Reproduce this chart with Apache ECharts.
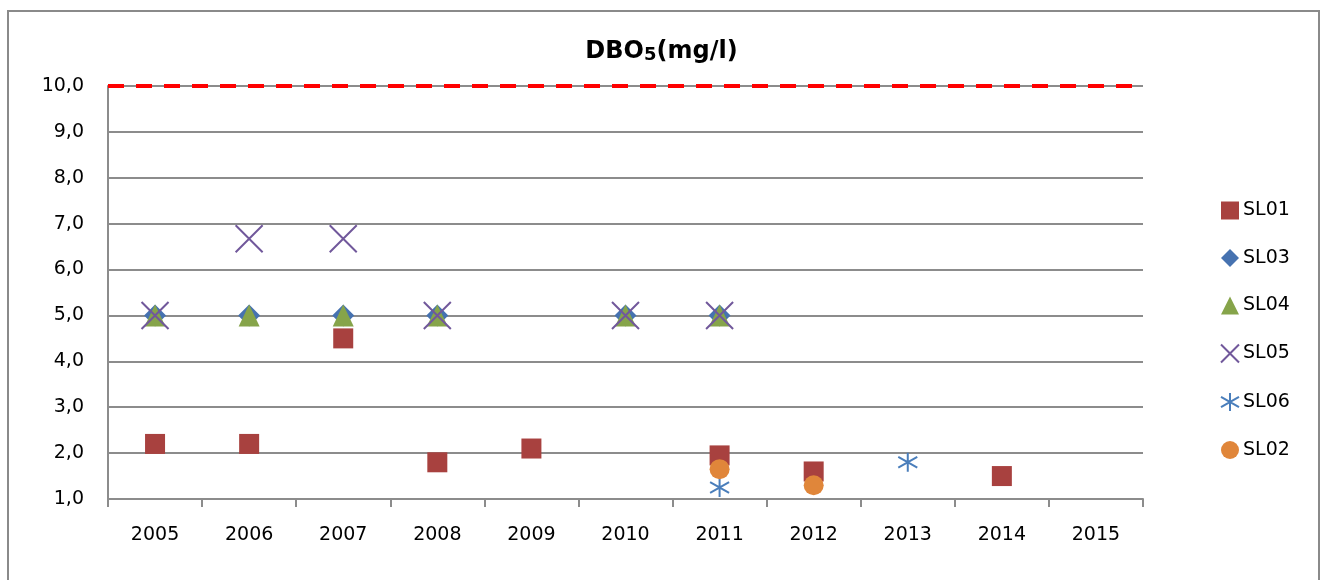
<!DOCTYPE html>
<html>
<head>
<meta charset="utf-8">
<script src="https://cdn.jsdelivr.net/npm/echarts@6/dist/echarts.min.js"></script>
<style>
  html, body { margin: 0; padding: 0; background: #fff; }
  #chart { position: absolute; left: 0; top: 0; width: 1323px; height: 580px; }
  #frame { position: absolute; left: 7px; top: 10px; width: 1313px; height: 600px;
           border: 2px solid #8a8a8a; box-sizing: border-box; pointer-events: none; }
</style>
</head>
<body>
<div id="chart"></div>
<div id="frame"></div>
<script>
const years = ['2005','2006','2007','2008','2009','2010','2011','2012','2013','2014','2015'];
const sl01 = [2.2, 2.2, 4.5, 1.8, 2.1, null, 1.95, 1.6, null, 1.5, null];
const sl03 = [5.0, 5.0, 5.0, 5.0, null, 5.0, 5.0, null, null, null, null];
const sl04 = [5.0, 5.0, 5.0, 5.0, null, 5.0, 5.0, null, null, null, null];
const sl05 = [5.0, 6.67, 6.67, 5.0, null, 5.0, 5.0, null, null, null, null];
const sl06 = [null, null, null, null, null, null, 1.25, null, 1.8, null, null];
const sl02 = [null, null, null, null, null, null, 1.65, 1.3, null, null, null];
const limitValue = 10.0;
const yMin = 1, yMax = 10, yStep = 1;

const FONT = 'DejaVu Sans';
const GRID_COLOR = '#8c8c8c';

const chart = echarts.init(document.getElementById('chart'), null, { renderer: 'canvas' });

const X_PATH = 'path://M0,0 L10,10 M10,0 L0,10';
const AST_PATH = 'path://M5,0 L5,10 M0,2.2 L10,7.8 M0,7.8 L10,2.2';

function sc(name, data, symbol, size, color, outlineOnly, z) {
  return {
    name: name,
    type: 'scatter',
    data: data,
    symbol: symbol,
    symbolSize: size,
    z: z,
    itemStyle: outlineOnly
      ? { color: 'rgba(0,0,0,0)', borderColor: color, borderWidth: 2, opacity: 1 }
      : { color: color, borderWidth: 0, opacity: 1 },
    emphasis: { disabled: true }
  };
}

const series = [
  sc('SL01', sl01, 'rect', 20, '#A8413F', false, 2),
  sc('SL03', sl03, 'diamond', 22, '#4672B0', false, 3),
  sc('SL04', sl04, 'triangle', [21, 22], '#86A44A', false, 4),
  sc('SL05', sl05, X_PATH, 27, '#71589B', true, 5),
  sc('SL06', sl06, AST_PATH, 19, '#4A7EBB', true, 6),
  sc('SL02', sl02, 'circle', 20, '#E0863A', false, 7)
];
series[0].markLine = {
  silent: true,
  symbol: ['none', 'none'],
  label: { show: false },
  lineStyle: { color: '#FF0000', width: 4, type: [16, 12], opacity: 1 },
  data: [{ yAxis: limitValue }]
};

chart.setOption({
  animation: false,
  backgroundColor: '#ffffff',
  title: {
    text: '{a|DBO}{b|5}{a|(mg/l)}',
    left: 'center',
    top: 29,
    textStyle: {
      rich: {
        a: { fontFamily: FONT, fontWeight: 'bold', fontSize: 24, color: '#000', lineHeight: 30, verticalAlign: 'bottom' },
        b: { fontFamily: FONT, fontWeight: 'bold', fontSize: 18, color: '#000', lineHeight: 25, verticalAlign: 'bottom' }
      }
    }
  },
  legend: {
    orient: 'vertical',
    left: 1215,
    top: 196,
    itemWidth: 18,
    itemHeight: 18,
    itemGap: 28.5,
    textStyle: { fontFamily: FONT, fontSize: 19, color: '#000', padding: [0, 0, 0, -1] },
    data: ['SL01', 'SL03', 'SL04', 'SL05', 'SL06', 'SL02']
  },
  grid: { left: 108, right: 180, top: 86, bottom: 81, containLabel: false },
  xAxis: {
    type: 'category',
    data: years,
    boundaryGap: true,
    axisLine: { lineStyle: { color: GRID_COLOR, width: 2 } },
    axisTick: { show: true, interval: 0, length: 8, lineStyle: { color: GRID_COLOR, width: 2 } },
    axisLabel: { fontFamily: FONT, fontSize: 19, color: '#000', margin: 27, interval: 0 },
    splitLine: { show: false }
  },
  yAxis: {
    type: 'value',
    min: yMin,
    max: yMax,
    interval: yStep,
    axisLine: { show: true, lineStyle: { color: GRID_COLOR, width: 2 } },
    axisTick: { show: false },
    axisLabel: {
      fontFamily: FONT, fontSize: 19, color: '#000', margin: 24,
      formatter: v => v.toFixed(1).replace('.', ',')
    },
    splitLine: { show: true, lineStyle: { color: GRID_COLOR, width: 2 } }
  },
  series: series
});
</script>
</body>
</html>
